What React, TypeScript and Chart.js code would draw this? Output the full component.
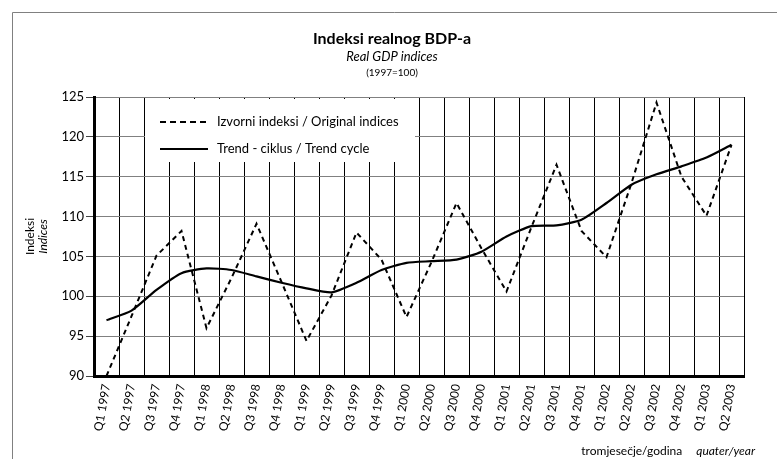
import React, { useEffect, useRef } from "react";
import { Chart, registerables } from "chart.js";

Chart.register(...registerables);

const FONT = "Lato, 'Open Sans', sans-serif";

const categories = [
  "Q1 1997", "Q2 1997", "Q3 1997", "Q4 1997",
  "Q1 1998", "Q2 1998", "Q3 1998", "Q4 1998",
  "Q1 1999", "Q2 1999", "Q3 1999", "Q4 1999",
  "Q1 2000", "Q2 2000", "Q3 2000", "Q4 2000",
  "Q1 2001", "Q2 2001", "Q3 2001", "Q4 2001",
  "Q1 2002", "Q2 2002", "Q3 2002", "Q4 2002",
  "Q1 2003", "Q2 2003",
];

const originalIndices = [
  90.0, 97.5, 105.1, 108.2,
  96.0, 102.3, 109.1, 101.8,
  94.4, 100.1, 108.0, 104.6,
  97.4, 104.3, 111.7, 106.0,
  100.6, 108.7, 116.5, 108.2,
  104.9, 114.2, 124.3, 115.0,
  110.1, 119.0,
];

const trendCycle = [
  97.0, 98.2, 100.8, 102.9,
  103.5, 103.3, 102.5, 101.7,
  101.0, 100.5, 101.7, 103.3,
  104.2, 104.4, 104.6, 105.6,
  107.5, 108.8, 108.9, 109.6,
  111.7, 114.0, 115.3, 116.3,
  117.4, 119.0,
];

const yMin = 90;
const yMax = 125;
const yStep = 5;

const seriesLabels = ["Izvorni indeksi / Original indices", "Trend - ciklus / Trend cycle"];
const titleText = "Indeksi realnog BDP-a";
const subtitleText = "Real GDP indices";
const baseText = "(1997=100)";
const yTitle = ["Indeksi", "Indices"];
const xTitle = ["tromjesečje/godina", "quater/year"];

export default function App() {
  const ref = useRef<HTMLCanvasElement | null>(null);

  useEffect(() => {
    if (!ref.current) return;

    const overlay = {
      id: "overlay",
      beforeDraw(chart: any) {
        const ctx = chart.ctx;
        ctx.save();
        ctx.fillStyle = "#fff";
        ctx.fillRect(0, 0, chart.width, chart.height);
        ctx.strokeStyle = "#808080";
        ctx.lineWidth = 1;
        ctx.beginPath();
        ctx.moveTo(12.5, chart.height);
        ctx.lineTo(12.5, 12.5);
        ctx.lineTo(chart.width, 12.5);
        ctx.stroke();
        ctx.restore();
      },
      beforeDatasetsDraw(chart: any) {
        const ctx = chart.ctx;
        ctx.save();
        ctx.fillStyle = "#fff";
        ctx.fillRect(145, 99, 270, 63);
        ctx.strokeStyle = "#000";
        ctx.lineWidth = 2;
        ctx.setLineDash([6, 4]);
        ctx.beginPath();
        ctx.moveTo(160, 122);
        ctx.lineTo(208, 122);
        ctx.stroke();
        ctx.setLineDash([]);
        ctx.beginPath();
        ctx.moveTo(160, 149);
        ctx.lineTo(208, 149);
        ctx.stroke();
        ctx.fillStyle = "#000";
        ctx.font = `13px ${FONT}`;
        ctx.textBaseline = "middle";
        ctx.textAlign = "left";
        ctx.fillText(seriesLabels[0], 217, 122);
        ctx.fillText(seriesLabels[1], 217, 149);
        ctx.restore();
      },
      afterDraw(chart: any) {
        const ctx = chart.ctx;
        const { chartArea } = chart;
        ctx.save();
        ctx.fillStyle = "#000";
        ctx.textAlign = "center";
        ctx.textBaseline = "alphabetic";
        const cx = 392;
        ctx.font = `bold 16px ${FONT}`;
        ctx.fillText(titleText, cx, 44);
        ctx.font = `italic 13px ${FONT}`;
        ctx.fillText(subtitleText, cx, 61);
        ctx.font = `10px ${FONT}`;
        ctx.fillText(baseText, cx, 76);

        const midY = (chartArea.top + chartArea.bottom) / 2;
        ctx.save();
        ctx.translate(34, midY);
        ctx.rotate(-Math.PI / 2);
        ctx.font = `12px ${FONT}`;
        ctx.fillText(yTitle[0], 0, 0);
        ctx.font = `italic 12px ${FONT}`;
        ctx.fillText(yTitle[1], 0, 13);
        ctx.restore();

        ctx.textAlign = "right";
        ctx.font = `italic 12px ${FONT}`;
        ctx.fillText(xTitle[1], 755, 455);
        const w2 = ctx.measureText(xTitle[1]).width;
        ctx.font = `12px ${FONT}`;
        ctx.fillText(xTitle[0], 755 - w2 - 14, 455);
        ctx.restore();
      },
    };

    const chart = new Chart(ref.current, {
      type: "line",
      data: {
        labels: categories,
        datasets: [
          {
            label: seriesLabels[0],
            data: originalIndices,
            borderColor: "#000",
            borderWidth: 2,
            borderDash: [5, 4],
            pointRadius: 0,
            tension: 0,
            fill: false,
          },
          {
            label: seriesLabels[1],
            data: trendCycle,
            borderColor: "#000",
            borderWidth: 2.2,
            pointRadius: 0,
            tension: 0.2,
            fill: false,
          },
        ],
      },
      options: {
        responsive: false,
        animation: false,
        devicePixelRatio: 1,
        layout: { padding: { top: 97, right: 33, left: 0, bottom: 0 } },
        plugins: {
          legend: { display: false },
          title: { display: false },
          tooltip: { enabled: false },
        },
        scales: {
          x: {
            type: "category",
            offset: true,
            grid: {
              color: "#000",
              lineWidth: 1,
              offset: true,
              drawTicks: false,
              tickLength: 0,
            },
            border: { color: "#000", width: 3 },
            ticks: {
              autoSkip: false,
              minRotation: 80,
              maxRotation: 80,
              color: "#000",
              padding: 7,
              font: { family: FONT, size: 12 },
            },
            afterFit: (s: any) => {
              s.height = 83;
            },
          },
          y: {
            min: yMin,
            max: yMax,
            grid: {
              color: "#808080",
              lineWidth: 1,
              tickLength: 8,
              tickColor: "#444",
            },
            border: { color: "#000", width: 3 },
            ticks: {
              stepSize: yStep,
              color: "#000",
              padding: 2,
              font: { family: FONT, size: 13 },
            },
            afterFit: (s: any) => {
              s.width = 94;
            },
          },
        },
      },
      plugins: [overlay],
    } as any);

    return () => chart.destroy();
  }, []);

  return (
    <div style={{ position: "fixed", left: 0, top: 0, width: 777, height: 459 }}>
      <canvas ref={ref} width={777} height={459} style={{ display: "block" }} />
    </div>
  );
}
